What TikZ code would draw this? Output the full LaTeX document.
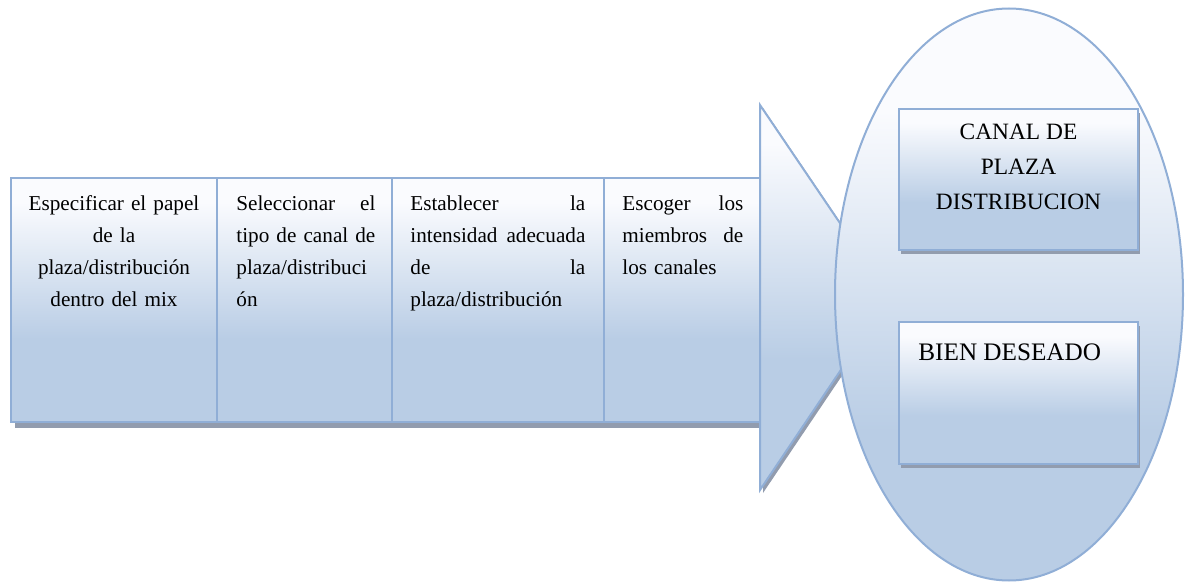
\documentclass[tikz,border=0pt]{standalone}
\usepackage{fontspec}
\setmainfont{Liberation Serif}
\usetikzlibrary{shadows,calc,shapes.geometric}

\definecolor{edge}{RGB}{144,174,214}
\definecolor{ftop}{RGB}{250,251,254}
\definecolor{fbot}{RGB}{185,205,229}
\definecolor{shadowc}{RGB}{146,156,174}

% light-to-blue fills (the path box maps to 25bp..75bp)
\pgfdeclareverticalshading{panelgrad}{100bp}{color(0bp)=(fbot); color(42bp)=(fbot); color(70bp)=(ftop); color(100bp)=(ftop)}
\pgfdeclareverticalshading{ovalgrad}{100bp}{color(0bp)=(fbot); color(38bp)=(fbot); color(66bp)=(ftop); color(100bp)=(ftop)}

\tikzset{
  panel/.style={rectangle, draw=edge, line width=1pt, shading=panelgrad,
    inner sep=0pt, anchor=north west},
  lowshadow/.style={drop shadow={shadow xshift=2pt, shadow yshift=-3pt, fill=shadowc, opacity=1}},
  boxshadow/.style={drop shadow={shadow xshift=1.2pt, shadow yshift=-1.8pt, fill=shadowc, opacity=1}},
  coltext/.style={inner sep=0pt, font=\fontsize{10.6}{16}\selectfont},
  captext/.style={inner sep=0pt, font=\fontsize{11.7}{17.5}\selectfont, align=center},
}

\begin{document}
\begin{tikzpicture}[x=0.5pt, y=-0.5pt]
\useasboundingbox (0,0) rectangle (1185,583);

% step columns
\node[panel, lowshadow, minimum width=103pt,  minimum height=122pt] (c1) at (10,177) {};
\node[panel, lowshadow, minimum width=87.5pt, minimum height=122pt] (c2) at (216,177) {};
\node[panel, lowshadow, minimum width=106pt,  minimum height=122pt] (c3) at (391,177) {};
\node[panel, lowshadow, minimum width=78.5pt, minimum height=122pt] (c4) at (603,177) {};

\node[coltext, text width=92pt, align=center, anchor=north] (t1) at ($(c1.north)+(0,18)$)
  {Especificar el papel\\de la\\plaza/distribución\\dentro del mix};
\node[coltext, text width=69.5pt, align=left, anchor=north west] (t2) at (236,195)
  {Seleccionar\hfill el\\tipo\hfill de\hfill canal\hfill de\\plaza/distribuci\\ón};
\node[coltext, text width=87.5pt, align=left, anchor=north west] (t3) at (410,195)
  {Establecer\hfill la\\intensidad\hfill adecuada\\de\hfill la\\plaza/distribución};
\node[coltext, text width=60.5pt, align=left, anchor=north west] (t4) at (622,195)
  {Escoger\hfill los\\miembros\hfill de\\los canales};

% arrow head
\path[draw=edge, line width=1pt, shading=panelgrad,
      drop shadow={shadow xshift=1.5pt, shadow yshift=-1.5pt, fill=shadowc, opacity=1}]
  (760,105) -- (890,297) -- (760,490) -- cycle;

% result oval
\node[ellipse, draw=edge, line width=1pt, shading=ovalgrad, inner sep=0pt,
      minimum width=174pt, minimum height=286pt] (oval) at (1009,294.5) {};

\node[panel, boxshadow, minimum width=119.5pt, minimum height=70.5pt] (b1) at (898,108) {};
\node[panel, boxshadow, minimum width=119.5pt, minimum height=71pt] (b2) at (898,321) {};

\node[captext, anchor=north] (l1) at ($(b1.north)+(0,16)$) {CANAL DE\\PLAZA\\DISTRIBUCION};
\node[inner sep=0pt, font=\fontsize{12.6}{15}\selectfont, anchor=north west] (l2) at (918,343) {BIEN DESEADO};
\end{tikzpicture}
\end{document}
